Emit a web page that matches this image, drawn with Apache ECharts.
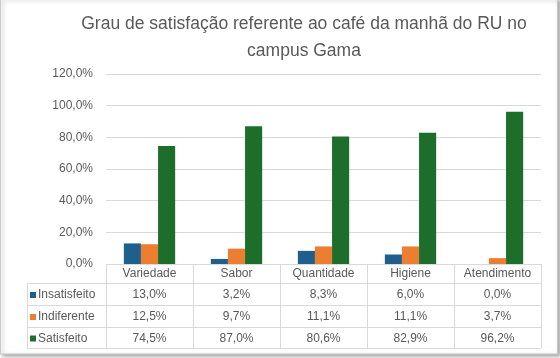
<!DOCTYPE html>
<html>
<head>
<meta charset="utf-8">
<script src="https://cdn.jsdelivr.net/npm/echarts@6/dist/echarts.min.js"></script>
<style>
html,body{margin:0;padding:0;background:#fff;}
#c{width:560px;height:358px;}
</style>
</head>
<body>
<div id="c"></div>
<script>
const titleText = 'Grau de satisfação referente ao café da manhã do RU no\ncampus Gama';
const categories = ['Variedade', 'Sabor', 'Quantidade', 'Higiene', 'Atendimento'];
const seriesNames = ['Insatisfeito', 'Indiferente', 'Satisfeito'];
const insatisfeito = [13.0, 3.2, 8.3, 6.0, 0.0];
const indiferente = [12.5, 9.7, 11.1, 11.1, 3.7];
const satisfeito = [74.5, 87.0, 80.6, 82.9, 96.2];
const yTicks = [0, 20, 40, 60, 80, 100, 120];
const colors = ['#1f5f8b', '#ed7d31', '#1e6e2b'];

const seriesData = [insatisfeito, indiferente, satisfeito];
const fmt = v => v.toFixed(1).replace('.', ',') + '%';

const W = 560, H = 358;
const gridLeft = 106, gridRight = 541, gridTop = 74, gridBottom = 264;
const tableLeft = 27;
const rowLines = [283, 305, 327, 348];
const font = '"Liberation Sans", Arial, sans-serif';
const textColor = '#595959';
const lineColor = '#d9d9d9';

const chart = echarts.init(document.getElementById('c'), null, {renderer: 'canvas'});

const colW = (gridRight - gridLeft) / categories.length;
const graphics = [];

// outer frame
graphics.push({
  type: 'rect', silent: true, z: -10,
  shape: {x: 0.5, y: -2, width: 557, height: 356},
  style: {fill: '#fff', stroke: '#c8c8c8', lineWidth: 1,
    shadowBlur: 4, shadowOffsetX: 2, shadowOffsetY: 2, shadowColor: 'rgba(0,0,0,0.35)'}
});

// title
graphics.push({
  type: 'text', silent: true,
  style: {x: 304, y: 11, text: titleText, textAlign: 'center', textVerticalAlign: 'top',
    fill: textColor, font: '17.5px ' + font, lineHeight: 27}
});

// table lines
const lineStyle = {stroke: lineColor, lineWidth: 1};
rowLines.forEach(y => {
  graphics.push({type: 'line', silent: true, shape: {x1: tableLeft, y1: y + 0.5, x2: gridRight, y2: y + 0.5}, style: lineStyle});
});
graphics.push({type: 'line', silent: true, shape: {x1: tableLeft + 0.5, y1: rowLines[0], x2: tableLeft + 0.5, y2: rowLines[3]}, style: lineStyle});
for (let i = 0; i <= categories.length; i++) {
  const x = Math.round(gridLeft + i * colW) + 0.5;
  graphics.push({type: 'line', silent: true, shape: {x1: x, y1: gridBottom, x2: x, y2: rowLines[3]}, style: lineStyle});
}

// table rows
seriesNames.forEach((name, r) => {
  const cy = (rowLines[r] + rowLines[r + 1]) / 2 + 1;
  graphics.push({type: 'rect', silent: true, shape: {x: 30, y: cy - 3, width: 6, height: 6}, style: {fill: colors[r]}});
  graphics.push({type: 'text', silent: true,
    style: {x: 38, y: cy, text: name, textAlign: 'left', textVerticalAlign: 'middle', fill: textColor, font: '12px ' + font}});
  seriesData[r].forEach((v, i) => {
    graphics.push({type: 'text', silent: true,
      style: {x: gridLeft + (i + 0.5) * colW, y: cy, text: fmt(v), textAlign: 'center', textVerticalAlign: 'middle', fill: textColor, font: '12px ' + font}});
  });
});

chart.setOption({
  animation: false,
  backgroundColor: '#fff',
  grid: {left: gridLeft, right: W - gridRight, top: gridTop, bottom: H - gridBottom, containLabel: false},
  xAxis: {
    type: 'category', data: categories,
    axisLine: {show: true, lineStyle: {color: lineColor}},
    axisTick: {show: false},
    axisLabel: {color: textColor, fontFamily: font, fontSize: 12, margin: 4, interval: 0}
  },
  yAxis: {
    type: 'value', min: 0, max: 120, interval: 20,
    axisLine: {show: false}, axisTick: {show: false},
    splitLine: {lineStyle: {color: lineColor, width: 1}},
    axisLabel: {color: textColor, fontFamily: font, fontSize: 12, margin: 13,
      formatter: v => yTicks.includes(v) ? fmt(v) : ''}
  },
  series: seriesNames.map((name, r) => ({
    name, type: 'bar', data: seriesData[r],
    barGap: '0%', barCategoryGap: '41%',
    itemStyle: {color: colors[r]}
  })),
  graphic: graphics
});
</script>
</body>
</html>
